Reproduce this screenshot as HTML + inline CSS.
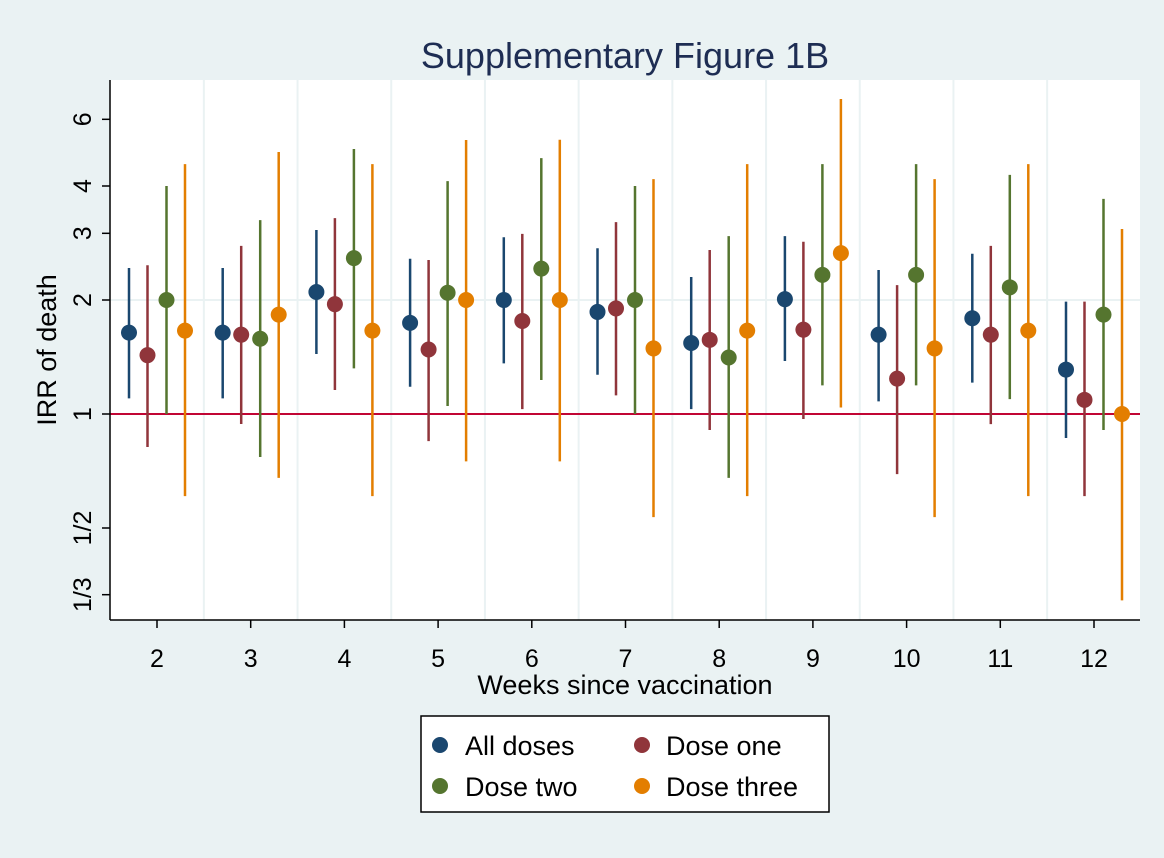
<!DOCTYPE html>
<html><head><meta charset="utf-8"><style>
body{margin:0;background:#eaf2f3;}
svg text{font-family:"Liberation Sans",Arial,sans-serif;}
</style></head><body>
<svg id="chart" width="1164" height="853" xmlns="http://www.w3.org/2000/svg">
<rect x="0" y="0" width="1164" height="853" fill="#eaf2f3"/>
<rect x="110" y="80" width="1030" height="540" fill="#ffffff"/>
<text x="625" y="68" text-anchor="middle" font-size="36" fill="#1e2d53">Supplementary Figure 1B</text>
<g id="grid"></g>
<g id="marks"></g>
<g id="axes"></g>
<text x="625" y="694" text-anchor="middle" font-size="27" fill="#000">Weeks since vaccination</text>
<text transform="translate(56,350) rotate(-90)" text-anchor="middle" font-size="27" fill="#000">IRR of death</text>
<g>
<rect x="421" y="716" width="408" height="96" fill="#fff" stroke="#000" stroke-width="1.5"/>
<circle cx="440" cy="745" r="8" fill="#1a476f"/><text x="465" y="755" font-size="27">All doses</text>
<circle cx="642" cy="745" r="8" fill="#90353b"/><text x="666" y="755" font-size="27">Dose one</text>
<circle cx="440" cy="786" r="8" fill="#55752f"/><text x="465" y="796" font-size="27">Dose two</text>
<circle cx="642" cy="786" r="8" fill="#e37e00"/><text x="666" y="796" font-size="27">Dose three</text>
</g>
</svg>
<script>
const weeks=[2,3,4,5,6,7,8,9,10,11,12];
const seriesNames=["All doses","Dose one","Dose two","Dose three"];
const allEst=[1.64,1.64,2.10,1.74,2.0,1.86,1.54,2.01,1.62,1.79,1.31];
const allLo=[1.10,1.10,1.44,1.18,1.36,1.27,1.03,1.38,1.08,1.21,0.864];
const allHi=[2.43,2.43,3.06,2.57,2.93,2.74,2.30,2.95,2.40,2.65,1.98];
const oneEst=[1.43,1.62,1.95,1.48,1.76,1.90,1.57,1.67,1.24,1.62,1.09];
const oneLo=[0.818,0.941,1.157,0.848,1.03,1.12,0.907,0.97,0.694,0.94,0.607];
const oneHi=[2.47,2.78,3.29,2.55,2.99,3.21,2.71,2.85,2.19,2.78,1.98];
const twoEst=[2.0,1.58,2.58,2.09,2.42,2.0,1.41,2.33,2.33,2.16,1.83];
const twoLo=[1.0,0.77,1.32,1.05,1.23,1.0,0.678,1.19,1.19,1.095,0.907];
const twoHi=[4.0,3.25,5.01,4.12,4.74,4.0,2.95,4.57,4.57,4.28,3.70];
const threeEst=[1.66,1.83,1.66,2.0,2.0,1.49,1.66,2.66,1.49,1.66,1.0];
const threeLo=[0.607,0.678,0.607,0.75,0.75,0.534,0.607,1.04,0.534,0.607,0.322];
const threeHi=[4.57,4.92,4.57,5.29,5.30,4.17,4.57,6.79,4.17,4.57,3.08];
const yTickVals=[1/3,1/2,1,2,3,4,6];
const yTickLabels=["1/3","1/2","1","2","3","4","6"];

const NS="http://www.w3.org/2000/svg";
const colors=["#1a476f","#90353b","#55752f","#e37e00"];
const offsets=[-28,-9.5,9.5,28];
function xPos(w){return 157+93.7*(w-2);}
function yPos(v){return 414-114*Math.log2(v);}
function mk(tag,attrs,parent){const e=document.createElementNS(NS,tag);for(const k in attrs)e.setAttribute(k,attrs[k]);parent.appendChild(e);return e;}
const grid=document.getElementById('grid'),marks=document.getElementById('marks'),axes=document.getElementById('axes');
for(let i=0;i<weeks.length-1;i++){
  const x=(xPos(weeks[i])+xPos(weeks[i+1]))/2;
  const l=mk('line',{x1:x,x2:x,y1:80,y2:620,stroke:'#eaf2f3','stroke-width':2},grid);
  
  
}
const hg=mk('line',{x1:110,x2:1140,y1:yPos(2),y2:yPos(2),stroke:'#eaf2f3','stroke-width':2},grid);


const ref=mk('line',{x1:110,x2:1140,y1:yPos(1),y2:yPos(1),stroke:'#c10534','stroke-width':2},grid);


const est=[allEst,oneEst,twoEst,threeEst],lo=[allLo,oneLo,twoLo,threeLo],hi=[allHi,oneHi,twoHi,threeHi];
for(let s=0;s<4;s++){
  for(let i=0;i<weeks.length;i++){
    const x=xPos(weeks[i])+offsets[s];
    const l=mk('line',{x1:x,x2:x,y1:yPos(lo[s][i]),y2:yPos(hi[s][i]),stroke:colors[s],'stroke-width':2.5},marks);
    
    
    const c=mk('circle',{cx:x,cy:yPos(est[s][i]),r:8,fill:colors[s]},marks);
    
    
  }
}
const ya=mk('line',{x1:110,x2:110,y1:80,y2:620,stroke:'#000','stroke-width':1.5},axes);


const xa=mk('line',{x1:110,x2:1140,y1:620,y2:620,stroke:'#000','stroke-width':1.5},axes);


yTickVals.forEach((v,i)=>{
  const y=yPos(v);
  const t=mk('line',{x1:102,x2:110,y1:y,y2:y,stroke:'#000','stroke-width':1.5},axes);
  
  
  const tx=mk('text',{transform:`translate(91,${y}) rotate(-90)`,'text-anchor':'middle','font-size':25},axes);
  tx.textContent=yTickLabels[i];
  
  
});
weeks.forEach(w=>{
  const x=xPos(w);
  const t=mk('line',{x1:x,x2:x,y1:620,y2:628,stroke:'#000','stroke-width':1.5},axes);
  
  
  const tx=mk('text',{x:x,y:667,'text-anchor':'middle','font-size':25},axes);
  tx.textContent=String(w);
  
  
});
</script>
</body></html>
